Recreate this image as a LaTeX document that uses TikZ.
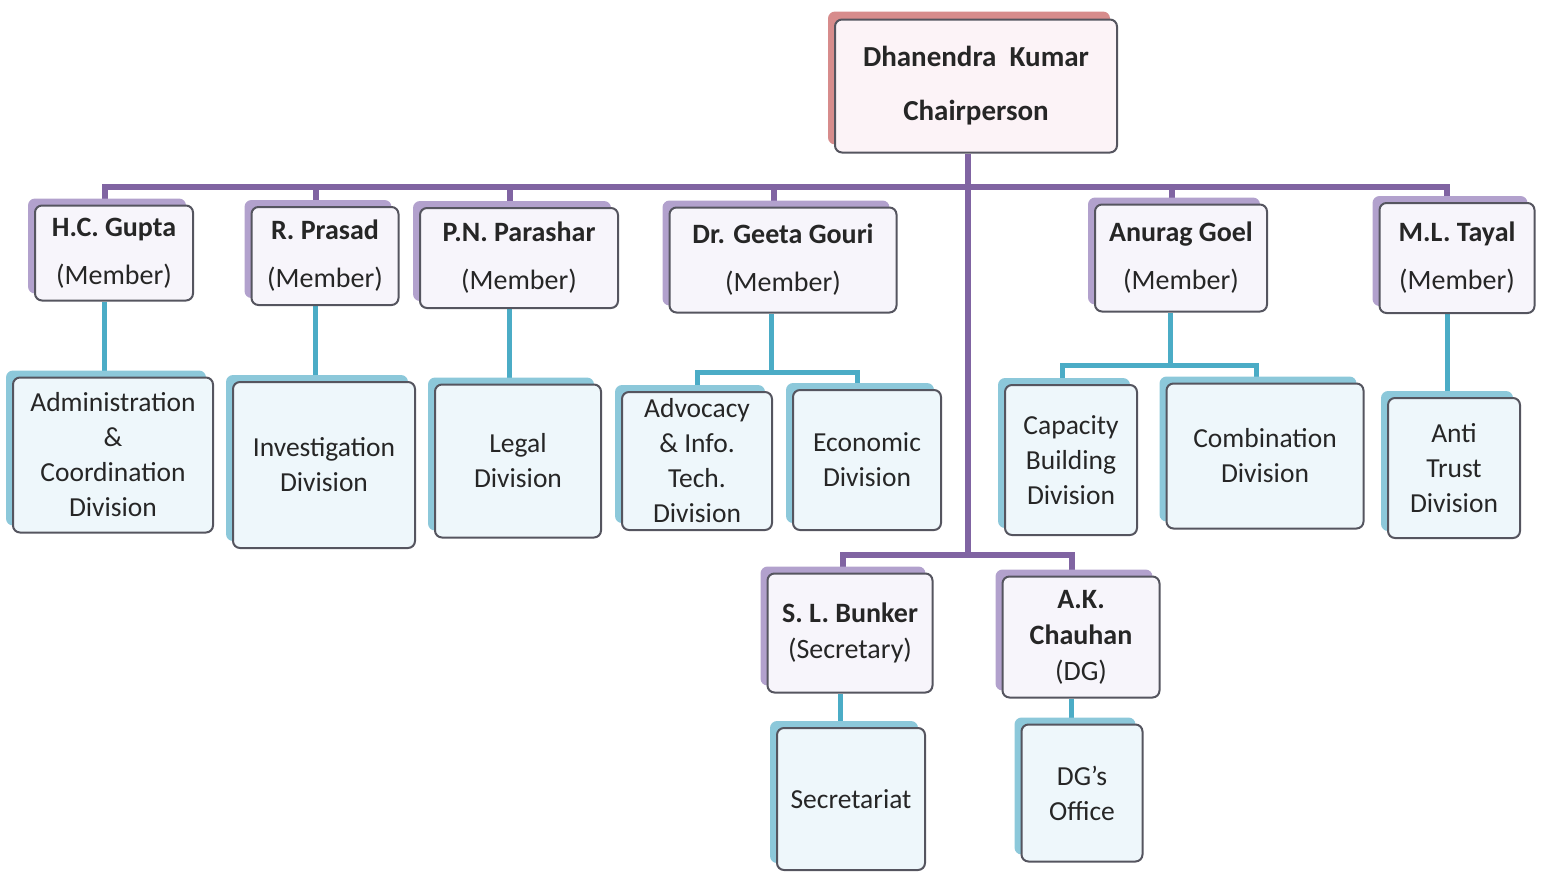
\documentclass[tikz,border=0pt]{standalone}
\usepackage{fontspec}
\setmainfont{Carlito}
\usetikzlibrary{shadows,backgrounds}
\definecolor{trunkpurple}{RGB}{128,100,162}
\definecolor{branchblue}{RGB}{75,172,198}
\definecolor{memshade}{RGB}{178,161,205}
\definecolor{divshade}{RGB}{140,200,218}
\definecolor{chairshade}{RGB}{215,140,140}
\definecolor{memfill}{RGB}{247,245,251}
\definecolor{divfill}{RGB}{238,247,251}
\definecolor{chairfill}{RGB}{252,243,247}
\definecolor{boxline}{RGB}{85,85,95}

\begin{document}
\begin{tikzpicture}[x=1pt, y=-1pt, line join=round]
	\tikzstyle{box}=[draw=boxline, line width=2, rounded corners=7, inner sep=0pt, align=center, text=black!85]
	\tikzstyle{chairbox}=[box, fill=chairfill, general shadow={fill=chairshade, shadow xshift=-7pt, shadow yshift=8pt}, font=\fontsize{29}{54}\selectfont\bfseries]
	\tikzstyle{memberbox}=[box, fill=memfill, general shadow={fill=memshade, shadow xshift=-7pt, shadow yshift=7pt}, font=\fontsize{28}{48}\selectfont]
	\tikzstyle{officerbox}=[box, fill=memfill, general shadow={fill=memshade, shadow xshift=-7pt, shadow yshift=7pt}, font=\fontsize{28}{36}\selectfont]
	\tikzstyle{divbox}=[box, fill=divfill, general shadow={fill=divshade, shadow xshift=-7pt, shadow yshift=7pt}, font=\fontsize{27.5}{35}\selectfont]
	\tikzstyle{purpleline}=[draw=trunkpurple, line width=6]
	\tikzstyle{blueline}=[draw=branchblue, line width=5]

	\useasboundingbox (0,0) rectangle (1544,873);

	% Chairperson
	\node[chairbox, minimum width=282, minimum height=133] (chair) at (976,86) {Dhanendra\ \ Kumar\\Chairperson};

	% Members
	\node[memberbox, minimum width=158, minimum height=95] (gupta) at (114,253) {\textbf{H.C. Gupta}\\(Member)};
	\node[memberbox, minimum width=147, minimum height=98] (prasad) at (325,256) {\textbf{R. Prasad}\\(Member)};
	\node[memberbox, minimum width=198, minimum height=100] (parashar) at (519,258) {\textbf{P.N. Parashar}\\(Member)};
	\node[memberbox, minimum width=227, minimum height=105] (gouri) at (783,260) {\textbf{Dr. Geeta Gouri}\\(Member)};
	\node[memberbox, minimum width=172, minimum height=107] (goel) at (1181,258) {\textbf{Anurag Goel}\\(Member)};
	\node[memberbox, minimum width=155, minimum height=110] (tayal) at (1457,258) {\textbf{M.L. Tayal}\\(Member)};

	% Divisions
	\node[divbox, minimum width=200, minimum height=155] (admin) at (113,455) {Administration\\\&\\Coordination\\Division};
	\node[divbox, minimum width=182, minimum height=166] (invest) at (324,465) {Investigation\\Division};
	\node[divbox, minimum width=166, minimum height=153] (legal) at (518,461) {Legal\\Division};
	\node[divbox, minimum width=150, minimum height=138] (advocacy) at (697,461) {Advocacy\\\& Info.\\Tech.\\Division};
	\node[divbox, minimum width=148, minimum height=140] (economic) at (867,460) {Economic\\Division};
	\node[divbox, minimum width=132, minimum height=150] (capacity) at (1071,460) {Capacity\\Building\\Division};
	\node[divbox, minimum width=197, minimum height=145] (combination) at (1265,456) {Combination\\Division};
	\node[divbox, minimum width=132, minimum height=140] (antitrust) at (1454,468) {Anti\\Trust\\Division};

	% Secretary and DG
	\node[officerbox, minimum width=165, minimum height=119] (bunker) at (850,633) {\textbf{S. L. Bunker}\\(Secretary)};
	\node[officerbox, minimum width=157, minimum height=121] (chauhan) at (1081,637) {\textbf{A.K.}\\\textbf{Chauhan}\\(DG)};
	\node[divbox, minimum width=148, minimum height=142] (secretariat) at (851,799) {Secretariat};
	\node[divbox, minimum width=121, minimum height=137] (dgoffice) at (1082,793) {DG's\\Office};

	\coordinate (topbar) at (968,187);
	\coordinate (lowbar) at (968,555);
	\coordinate (gfork) at (771,372);
	\coordinate (afork) at (1170,365);

	% Draw connectors
	\begin{scope}[on background layer]
		\draw[purpleline] ([xshift=-8]chair.south) -- (lowbar);
		\draw[purpleline] ([xshift=-9]gupta.north) |- (topbar) -| ([xshift=-10]tayal.north);
		\foreach \m in {prasad,parashar,gouri,goel}
			\draw[purpleline] ([xshift=-9]\m.north) -- ([xshift=-9]\m.north |- topbar);
		\draw[purpleline] ([xshift=-7]bunker.north) |- (lowbar) -| ([xshift=-9]chauhan.north);

		\foreach \a/\b in {gupta/admin, prasad/invest, parashar/legal, tayal/antitrust, bunker/secretariat, chauhan/dgoffice}
			\draw[blueline] ([xshift=-10]\a.south) -- ([xshift=-10]\a.south |- \b.north);
		\draw[blueline] (gouri.south -| gfork) -- (gfork);
		\draw[blueline] (advocacy.north) |- (gfork) -| ([xshift=-10]economic.north);
		\draw[blueline] (goel.south -| afork) -- (afork);
		\draw[blueline] ([xshift=-9]capacity.north) |- (afork) -| ([xshift=-9]combination.north);
	\end{scope}
\end{tikzpicture}
\end{document}
